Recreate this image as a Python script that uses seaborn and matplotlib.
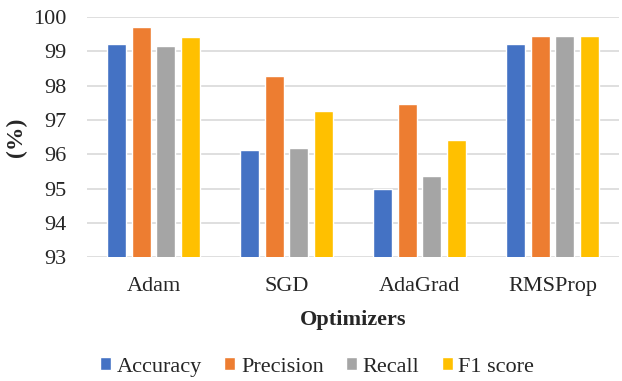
import pandas as pd
import matplotlib
matplotlib.use("Agg")
import matplotlib.pyplot as plt
import seaborn as sns

optimizers = ["Adam", "SGD", "AdaGrad", "RMSProp"]
metrics = ["Accuracy", "Precision", "Recall", "F1 score"]
accuracy = [99.21, 96.12, 94.99, 99.21]
precision = [99.70, 98.29, 97.48, 99.45]
recall = [99.15, 96.18, 95.38, 99.45]
f1_score = [99.43, 97.25, 96.42, 99.45]
colors = ["#4472C4", "#ED7D31", "#A5A5A5", "#FFC000"]

rows = []
for m, vals in zip(metrics, [accuracy, precision, recall, f1_score]):
    for opt, v in zip(optimizers, vals):
        rows.append({"Optimizer": opt, "Metric": m, "Value": v})
df = pd.DataFrame(rows)

sns.set_theme(style="white")
plt.rcParams["font.family"] = ["Liberation Serif", "DejaVu Serif"]

fig, ax = plt.subplots(figsize=(6.22, 3.81), dpi=100)
sns.barplot(data=df, x="Optimizer", y="Value", hue="Metric", palette=colors,
            saturation=1, width=0.74, gap=0.22, ax=ax, zorder=3)

ax.set_ylim(93, 100)
ax.set_yticks(range(93, 101))
ax.yaxis.grid(True, color="#D9D9D9", linewidth=1.2, zorder=0)
ax.set_axisbelow(True)
for s in ax.spines.values():
    s.set_visible(False)
ax.tick_params(axis="y", labelsize=16, length=0, pad=15)
ax.tick_params(axis="x", labelsize=16, length=0, pad=14)
ax.set_ylabel("(%)", fontsize=17, fontweight="bold")
ax.yaxis.set_label_coords(-0.112, 0.5)
ax.set_xlabel("Optimizers", fontsize=16, fontweight="bold", labelpad=10)

handles, labels = ax.get_legend_handles_labels()
ax.legend_.remove()
fig.legend(handles, labels, loc="center", bbox_to_anchor=(0.51, 0.037), ncol=4,
           frameon=False, fontsize=16, handlelength=0.5, handleheight=0.5,
           handletextpad=0.25, columnspacing=1.0)

fig.subplots_adjust(left=0.14, right=0.995, top=0.955, bottom=0.325)
fig.savefig("out.png", dpi=100)
